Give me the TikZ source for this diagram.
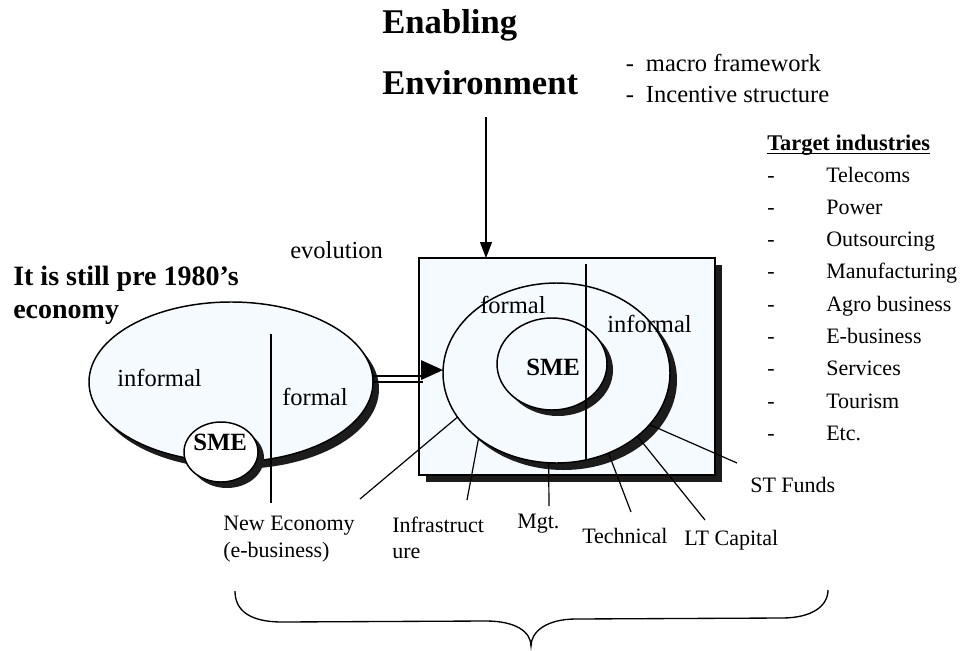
\documentclass[tikz,border=0pt]{standalone}
\usepackage{fontspec}
\setmainfont{Liberation Serif}
\usetikzlibrary{arrows.meta,shapes.geometric}
\definecolor{paleblue}{RGB}{245,250,255}
\definecolor{shadowc}{RGB}{28,28,28}
\begin{document}
\begin{tikzpicture}[x=0.75pt,y=-0.75pt,
  shp/.style={draw=black,line width=1.1pt,inner sep=0pt,outer sep=0pt},
  body/.style={font=\fontsize{18.4}{22}\selectfont,inner sep=0pt,anchor=base west},
  lbl/.style={font=\fontsize{16.5}{20}\selectfont,inner sep=0pt,anchor=base west},
  bsme/.style={font=\bfseries\fontsize{18.6}{22}\selectfont,inner sep=0pt,anchor=base west},
  title/.style={font=\bfseries\fontsize{26}{30}\selectfont,inner sep=0pt,anchor=base west},
  conn/.style={line width=0.9pt},
]
\useasboundingbox (0,0) rectangle (964,650);
\fill[white] (0,0) rectangle (964,650);

% ---- left ellipse (old economy)
\fill[shadowc] (237,389) ellipse [x radius=106.5pt, y radius=60pt];
\node[shp,ellipse,fill=paleblue,minimum width=213pt,minimum height=120pt] (old) at (231,382) {};
\coordinate (ovt) at (271,334);
\coordinate (ovb) at (271,503);
\draw[conn] (ovt) -- (ovb);
\fill[shadowc] (227,458) ellipse [x radius=27.75pt, y radius=22.5pt];
\node[shp,ellipse,fill=white,minimum width=55.5pt,minimum height=45pt] (smeA) at (221,452) {};

% ---- box with rings
\fill[shadowc] (426,265) rectangle (722,482);
\node[shp,rectangle,fill=paleblue,minimum width=222pt,minimum height=162.75pt] (box) at (567,366.5) {};
\fill[shadowc] (563.5,380) ellipse [x radius=85.125pt, y radius=67.5pt];
\node[shp,ellipse,fill=paleblue,minimum width=170.25pt,minimum height=135pt] (outer) at (556.5,373) {};
\fill[shadowc] (558,370) ellipse [x radius=41.25pt, y radius=34.5pt];
\node[shp,ellipse,fill=paleblue,minimum width=82.5pt,minimum height=69pt] (inner) at (552,364) {};
\coordinate (bvt) at (586,264);
\coordinate (bvb) at (586,461);
\draw[conn] (bvt) -- (bvb);

% ---- arrows
\coordinate (envtip) at (486,117);
\draw[conn,-{Triangle[length=12pt,width=9pt]}] (envtip) -- (envtip |- box.north);
\draw[conn] ([yshift=4.5pt]old.east) -- ++(50,0);
\draw[conn] ([yshift=0pt]old.east) -- ++(50,0);
\coordinate (dtip) at ([yshift=2.2pt]outer.west);
\fill (dtip) -- ++(-22,-10) -- ++(0,20) -- cycle;

% ---- texts
\node[title] (en1) at (382,33) {Enabling};
\node[title] (en2) at (382,94) {Environment};
\node[body] (mf) at (625.5,71) {-\hspace{9pt}macro framework};
\node[body] (is) at (625.5,102) {-\hspace{9pt}Incentive structure};

\node[font=\bfseries\fontsize{16.8}{20}\selectfont,inner sep=0pt,anchor=base west] (ti) at (767,150) {Target industries};
\draw[line width=1.1pt] ([yshift=-2.6pt]ti.base west) -- ([yshift=-2.6pt]ti.base east);
\foreach \t [count=\i from 0] in {Telecoms,Power,Outsourcing,Manufacturing,Agro business,E-business,Services,Tourism,Etc.} {
  \node[lbl] (d\i) at (767,{182+32.3*\i}) {-};
  \node[lbl] (t\i) at (826,{182+32.3*\i}) {\t};
}

\node[font=\bfseries\fontsize{21}{25}\selectfont,inner sep=0pt,anchor=base west] (pre1) at (13,285) {It is still pre 1980’s};
\node[font=\bfseries\fontsize{21}{25}\selectfont,inner sep=0pt,anchor=base west] (pre2) at (13,318) {economy};
\node[body] (evo) at (290,258) {evolution};

\node[body] (inf1) at (117,386) {informal};
\node[body] (for1) at (282,405) {formal};
\node[bsme] (sme1) at (193,450) {SME};

\node[body] (for2) at (480,313) {formal};
\node[body] (inf2) at (607,332) {informal};
\node[bsme] (sme2) at (526,375) {SME};

\node[lbl] (ne1) at (223,530) {New Economy};
\node[lbl] (ne2) at (223,557) {(e-business)};
\node[lbl] (in1) at (392,532) {Infrastruct};
\node[lbl] (in2) at (392,558) {ure};
\node[lbl] (mg) at (517,528) {Mgt.};
\node[lbl] (te) at (582,543) {Technical};
\node[lbl] (lt) at (684,545) {LT Capital};
\node[lbl] (st) at (750,492) {ST Funds};

% ---- connectors from the ring to the labels
\coordinate (cNE) at (360,499);
\coordinate (cIN) at (467,500);
\coordinate (cMG) at (549,506);
\coordinate (cTE) at (631,512);
\coordinate (cLT) at (705,520);
\coordinate (cST) at (737,463);
\draw[conn] (outer.204) -- (cNE);
\draw[conn] (outer.220.5) -- (cIN);
\draw[conn] (outer.265.3) -- (cMG);
\draw[conn] (outer.303.3) -- (cTE);
\draw[conn] (outer.322.2) -- (cLT);
\draw[conn] (outer.331.3) -- (cST);

% ---- brace
\draw[line width=1pt] (235,591) .. controls (235,612) and (252,622) .. (282,622)
  -- (486,621) .. controls (516,621) and (531,632) .. (531,646)
  .. controls (531,632) and (546,619) .. (576,619)
  -- (782,618) .. controls (812,618) and (828,606) .. (828,590);
\end{tikzpicture}
\end{document}
